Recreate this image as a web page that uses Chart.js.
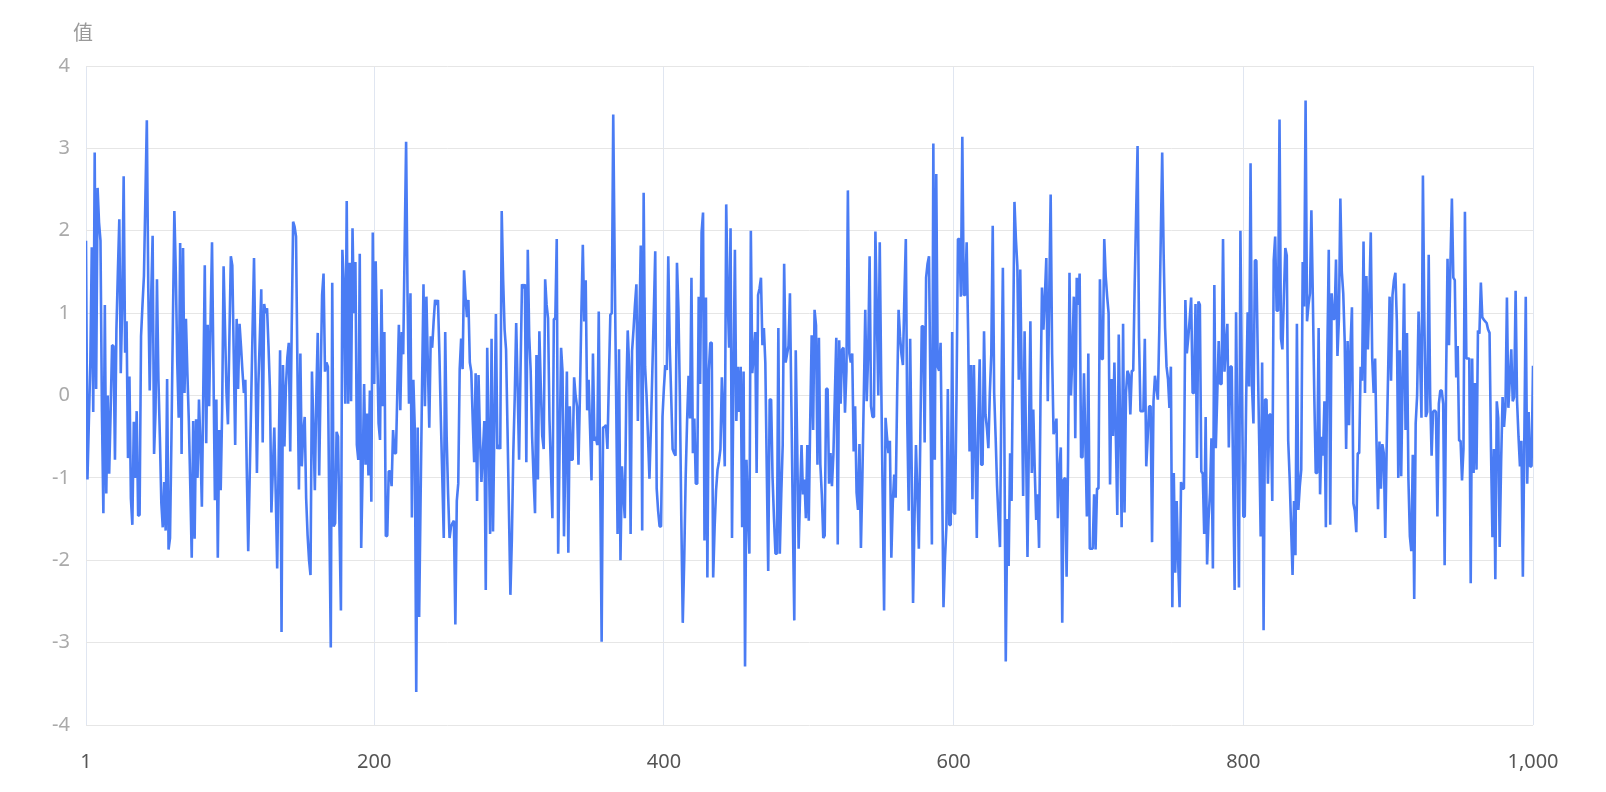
<!DOCTYPE html>
<html>
<head>
<meta charset="utf-8">
<script src="https://cdn.jsdelivr.net/npm/chart.js@4.4.1/dist/chart.umd.min.js"></script>
<style>
  html, body { margin: 0; padding: 0; background: #fff; }
  canvas { display: block; }
</style>
</head>
<body>
<canvas id="chart" width="1606" height="792"></canvas>
<script>
// values, in runs of roughly 84 points
const seg01 = [1.88, -1.02, -0.3, 0.4, 1.8, -0.2, 2.95, 0.08, 2.52, 2.1,
  1.88, -0.2, -1.43, 1.1, -1.19, 0.0, -0.95, -0.2, 0.61, 0.6,
  -0.78, 0.8, 1.5, 2.14, 0.27, 1.1, 2.66, 0.52, 0.9, -0.76,
  0.23, -1.25, -1.57, -0.32, -1.0, -0.19, -1.46, -1.45, 0.72, 1.1,
  1.45, 2.4, 3.34, 1.3, 0.06, 1.2, 1.94, -0.71, -0.2, 1.41,
  0.2, -0.5, -1.3, -1.6, -1.05, -1.64, 0.2, -1.87, -1.73, -0.5,
  0.9, 2.24, 1.5, 0.4, -0.27, 1.85, -0.71, 1.79, 0.03, 0.93,
  0.27, -0.31, -1.1, -1.97, -0.31, -1.74, -0.29, -1.0, -0.05, -0.6,
  -1.35, 0.1, 1.58];
const seg02 = [-0.58, 0.86, -0.13, 0.9, 1.86, 0.3, -1.27, -0.05, -1.97, -0.42,
  -1.15, -0.18, 1.57, 0.8, 0.03, -0.35, 0.7, 1.69, 1.58, 0.5,
  -0.6, 0.93, 0.08, 0.87, 0.6, 0.3, 0.03, 0.19, -0.9, -1.89,
  -1.0, -0.1, 0.8, 1.67, 0.4, -0.94, 0.14, 0.7, 1.29, -0.57,
  1.11, 1.0, 1.06, 0.6, 0.07, -1.42, -0.9, -0.39, -1.2, -2.1,
  -0.8, 0.55, -2.87, 0.37, -0.62, 0.1, 0.46, 0.64, -0.68, 0.8,
  2.11, 2.05, 1.93, 0.3, -1.14, 0.51, -0.86, -0.44, -0.26, -1.25,
  -1.7, -2.0, -2.18, 0.29, -0.4, -1.15, 0.0, 0.76, -0.97, 0.2,
  1.22, 1.48, 0.29];
const seg03 = [0.4, 0.35, -1.5, -3.06, 1.37, -1.59, -1.55, -0.44, -0.5, -1.6,
  -2.61, 1.77, 1.35, -0.1, 2.36, -0.1, 1.61, -0.07, 2.03, 1.0,
  1.62, -0.6, -0.78, 1.72, -1.85, -0.9, 0.14, -0.84, -0.22, -0.97,
  0.06, -1.29, 1.98, 0.14, 1.63, 0.6, -0.34, -0.54, 1.29, -0.13,
  0.77, -1.71, -1.7, -0.92, -0.92, -1.1, -0.42, -0.7, -0.7, 0.1,
  0.86, -0.18, 0.77, 0.5, 1.8, 3.08, 1.2, -0.1, 1.24, -1.48,
  0.19, -0.4, -3.6, -0.39, -2.69, -1.26, 0.1, 1.35, -0.13, 1.2,
  0.4, -0.39, 0.72, 0.58, 0.9, 1.16, 1.1, 1.16, 0.5, -0.3,
  -1.0, -1.73, 0.77];
const seg04 = [-0.5, -1.2, -1.73, -1.59, -1.55, -1.52, -2.78, -1.28, -1.07, 0.32,
  0.69, 0.32, 1.52, 1.2, 0.95, 1.16, 0.4, 0.29, -0.3, -0.81,
  0.27, -1.28, 0.25, -0.5, -1.05, -0.7, -0.31, -2.36, 0.58, -0.5,
  -1.68, 0.69, -1.65, -0.3, 0.99, -0.65, -0.6, -0.65, 2.24, 1.4,
  0.8, 0.56, -0.4, -1.4, -2.42, -1.75, -0.7, -0.02, 0.88, 0.1,
  -0.78, 0.3, 1.35, 1.3, 1.35, -0.81, 1.77, 0.72, 0.3, -0.5,
  -1.0, -1.43, 0.49, -1.02, 0.78, 0.1, -0.49, -0.65, 1.41, 1.1,
  0.94, -0.3, -0.9, -1.49, 0.93, 0.93, 1.9, -1.92, -0.6, 0.58,
  0.29, -1.71, -0.7, 0.29, -1.91, -0.13, -0.78];
const seg05 = [-0.78, 0.22, 0.0, -0.13, -0.84, 0.0, 1.0, 1.83, 0.9, 1.4,
  -0.18, 0.19, -0.4, -1.03, 0.51, -0.55, -0.5, -0.6, 1.02, -1.0,
  -2.99, -0.39, -0.38, -0.36, -0.65, 0.2, 0.98, 1.0, 3.41, 1.6,
  0.0, -1.68, 0.56, -2.0, -0.86, -1.2, -1.49, 0.0, 0.79, 0.35,
  -1.68, 0.54, 0.8, 1.1, 1.35, -0.31, 0.8, 1.82, -1.64, 2.46,
  0.35, 0.0, -0.5, -1.01, -0.4, 0.3, 1.0, 1.75, -1.13, -1.4,
  -1.59, -1.59, -0.26, 0.1, 0.37, 0.31, 1.69, 0.61, 0.0, -0.65,
  -0.7, -0.73, 1.61, 1.06, 0.0, -1.5, -2.76, -2.0, -1.0, -0.3,
  0.24, -0.28, 1.43, -0.7];
const seg06 = [-0.28, -1.07, -1.07, 1.2, 0.14, 1.98, 2.22, -1.76, 1.19, -2.21,
  0.3, 0.64, 0.64, -2.21, -1.6, -1.15, -0.9, -0.8, -0.65, 0.22,
  -0.2, -0.86, 2.32, 1.2, 0.58, 2.03, -1.73, 0.2, 1.77, -0.31,
  0.35, -0.2, 0.35, -1.6, 0.29, -3.29, -0.78, -1.4, -1.92, 2.0,
  0.27, 0.5, 0.77, -0.94, 1.22, 1.3, 1.43, 0.61, 0.82, 0.4,
  -0.9, -2.13, -0.05, -0.05, -1.0, -1.5, -1.92, -1.92, 0.82, -1.92,
  -1.2, -0.6, 1.6, 0.4, 0.5, 0.6, 1.24, -0.13, -1.5, -2.73,
  0.55, -0.6, -1.86, -1.2, -0.6, -1.2, -1.02, -1.49, -0.6, -1.52,
  -0.3, 0.73, -0.42, 1.04];
const seg07 = [0.85, -0.84, 0.7, -0.84, -1.2, -1.73, -1.7, 0.08, 0.08, -1.07,
  -0.7, -1.1, -0.72, 0.0, 0.7, -1.81, 0.67, -0.1, 0.56, 0.58,
  -0.21, 0.3, 2.49, 0.51, 0.4, 0.51, -0.68, -0.13, -1.18, -1.39,
  -0.59, -1.85, -1.0, 0.0, 1.04, -0.07, 0.5, 1.69, -0.13, -0.26,
  -0.26, 1.99, 1.0, 0.0, 1.86, 0.2, -1.2, -2.61, -0.27, -0.5,
  -0.7, -0.55, -1.97, -1.3, -0.96, -1.24, 0.0, 1.04, 0.72, 0.5,
  0.37, 1.2, 1.9, -0.3, -1.4, 0.69, -0.8, -2.52, -1.5, -0.6,
  -1.2, -1.86, -0.5, 0.84, 0.84, -0.57, 1.43, 1.6, 1.69, 0.0,
  -1.81, 3.06, -0.78, 2.69];
const seg08 = [0.35, 0.3, 0.64, -0.9, -2.57, -2.0, -1.6, 0.08, -1.57, -1.57,
  0.77, -1.42, -1.44, 0.0, 1.9, 1.9, 1.2, 3.14, 1.22, 1.22,
  1.86, 0.78, -0.68, 0.37, -1.26, 0.37, -0.65, -1.73, -0.3, 0.44,
  -0.84, -0.84, 0.78, -0.23, -0.4, -0.64, 0.03, 0.5, 2.06, 0.03,
  -0.5, -1.1, -1.5, -1.84, 0.0, 1.55, -0.39, -3.23, -1.5, -2.07,
  -0.7, -1.28, 0.5, 2.35, 1.9, 1.57, 0.19, 1.53, 0.2, -1.22,
  0.78, -0.6, -1.96, -0.5, 0.9, -0.94, -0.17, -0.9, -1.51, -1.2,
  -1.85, 0.0, 1.31, 0.8, 1.2, 1.67, -0.07, 1.2, 2.44, 0.5,
  -0.47, -0.4, -0.28, -1.49, -0.9];
const seg09 = [-0.63, -2.76, -1.02, -1.0, -2.2, -0.8, 1.49, 0.0, 0.5, 1.2,
  -0.52, 1.43, 1.1, 1.48, -0.75, -0.75, 0.27, -0.6, -1.47, 0.51,
  -1.86, -1.86, -1.86, -1.2, -1.87, -1.13, -1.13, 1.41, 0.45, 0.44,
  1.9, 1.45, 1.2, 1.0, -1.08, 0.2, -0.49, 0.4, -0.5, -1.45,
  0.74, -0.4, -1.6, 0.87, -1.42, 0.03, 0.3, 0.25, -0.23, 0.3,
  0.3, 1.34, 2.2, 3.03, 0.7, -0.19, -0.19, -0.19, 0.69, -0.86,
  -0.5, -0.13, -0.13, -1.78, -0.07, 0.24, 0.1, -0.05, 0.8, 1.9,
  2.95, 1.72, 0.82, 0.35, 0.2, -0.15, 0.35, -2.57, -0.94, -2.15,
  -1.28, -2.0, -2.57, -1.05];
const seg10 = [-1.13, -1.13, 1.16, 0.51, 0.7, 0.93, 1.19, 0.03, 0.03, 1.11,
  -0.76, 1.14, 1.1, -0.92, -0.95, -1.68, -0.26, -2.05, -1.5, -1.18,
  -0.52, -2.1, 1.34, -0.64, 0.0, 0.66, 0.14, 0.14, 1.9, 0.29,
  0.6, 0.87, -0.63, 0.35, 0.35, -1.0, -2.36, 1.01, -0.6, -2.33,
  2.0, 0.2, -1.47, -1.47, 0.0, 1.01, 0.11, 2.82, 0.11, -0.34,
  1.64, 1.64, 0.45, -0.6, -1.71, 0.4, -2.85, -0.05, -0.05, -1.07,
  -0.23, -0.23, -1.28, 1.64, 1.93, 1.03, 1.03, 3.35, 0.69, 0.56,
  1.2, 1.79, 1.7, -0.55, -1.0, -1.6, -2.18, -1.28, -1.94, 0.87,
  -1.39, -1.1, -0.9, 1.62];
const seg11 = [1.08, 3.58, 0.9, 1.1, 1.24, 2.25, 1.2, 0.0, -0.94, -0.94,
  0.82, -1.2, -0.5, -0.73, -0.07, -1.6, 0.5, 1.77, -1.57, 1.24,
  0.93, 0.93, 1.65, 0.48, 0.93, 2.39, 1.5, 1.24, 0.66, -0.65,
  0.66, -0.36, 0.6, 1.07, -1.31, -1.4, -1.66, -0.7, -0.7, 0.35,
  0.18, 1.87, 0.03, 1.45, 0.56, 1.2, 1.98, 0.45, 0.03, 0.45,
  -0.6, -1.38, -0.56, -1.13, -0.59, -0.7, -1.73, -0.6, 0.3, 1.2,
  0.18, 1.22, 1.4, 1.49, 0.9, -1.0, 0.55, -0.98, 0.2, 1.36,
  -0.42, 0.76, -1.02, -1.71, -1.89, -0.72, -2.47, -0.34, 0.0, 1.02,
  0.5, -0.27, 2.67, 0.9];
const seg12 = [-0.26, -0.2, 1.71, 0.0, -0.73, -0.2, -0.18, -0.2, -1.47, -0.1,
  0.06, 0.06, -0.1, -2.06, 0.2, 1.66, 0.61, 1.6, 2.39, 1.43,
  1.4, 0.22, 0.6, -0.55, -0.55, -1.03, -0.65, 2.23, 0.45, 0.45,
  0.45, -2.28, 0.45, -0.94, 0.15, -0.9, 0.79, 0.75, 1.37, 0.95,
  0.92, 0.9, 0.88, 0.8, 0.76, -0.65, -1.72, -0.65, -2.23, -0.07,
  -0.27, -1.84, -0.8, -0.02, -0.38, -0.13, 1.19, -0.15, 0.2, 0.56,
  -0.07, -0.02, 1.27, -0.07, -0.5, -0.86, -0.55, -2.2, -0.55, 1.2,
  -1.07, -0.2, -0.86, -0.86, 0.36];

const values = [].concat(seg01, seg02, seg03, seg04, seg05, seg06,
  seg07, seg08, seg09, seg10, seg11, seg12);
const xTicks = [1, 200, 400, 600, 800, 1000];
const yMin = -4, yMax = 4;
const axisName = "值";

const fontFamily = "'Noto Sans', 'Noto Sans CJK SC', sans-serif";

const axisNamePlugin = {
  id: "axisName",
  afterDraw(chart) {
    const c = chart.ctx;
    c.save();
    c.font = "20px 'Noto Sans CJK SC', 'Noto Sans', sans-serif";
    c.fillStyle = "#999";
    c.textAlign = "left";
    c.textBaseline = "middle";
    c.fillText(axisName, 73, 32);
    c.restore();
  }
};

const ctx = document.getElementById("chart").getContext("2d");
new Chart(ctx, {
  type: "line",
  data: {
    datasets: [{
      data: values.map((v, i) => ({ x: i + 1, y: v })),
      borderColor: "#4a7cf4",
      borderWidth: 2.6,
      borderJoinStyle: "bevel",
      pointRadius: 0,
      tension: 0,
      fill: false
    }]
  },
  options: {
    responsive: false,
    animation: false,
    devicePixelRatio: 1,
    layout: { padding: { top: 66, right: 73, left: 0, bottom: 0 } },
    plugins: { legend: { display: false }, tooltip: { enabled: false } },
    scales: {
      x: {
        type: "linear",
        min: 1,
        max: 1000,
        afterBuildTicks: s => { s.ticks = xTicks.map(v => ({ value: v })); },
        afterFit: s => { s.height = 67; },
        grid: { color: "#e0e6f1", drawTicks: false },
        border: { display: false },
        ticks: {
          padding: 25,
          color: "#555",
          autoSkip: false,
          maxRotation: 0,
          font: { size: 20, family: fontFamily },
          callback: v => v.toLocaleString("en-US")
        }
      },
      y: {
        min: yMin,
        max: yMax,
        afterFit: s => { s.width = 86; },
        grid: { color: "#e6e6e6", drawTicks: false },
        border: { display: false },
        ticks: {
          stepSize: 1,
          padding: 16,
          color: "#aaa",
          font: { size: 20, family: fontFamily }
        }
      }
    }
  },
  plugins: [axisNamePlugin]
});
</script>
</body>
</html>
